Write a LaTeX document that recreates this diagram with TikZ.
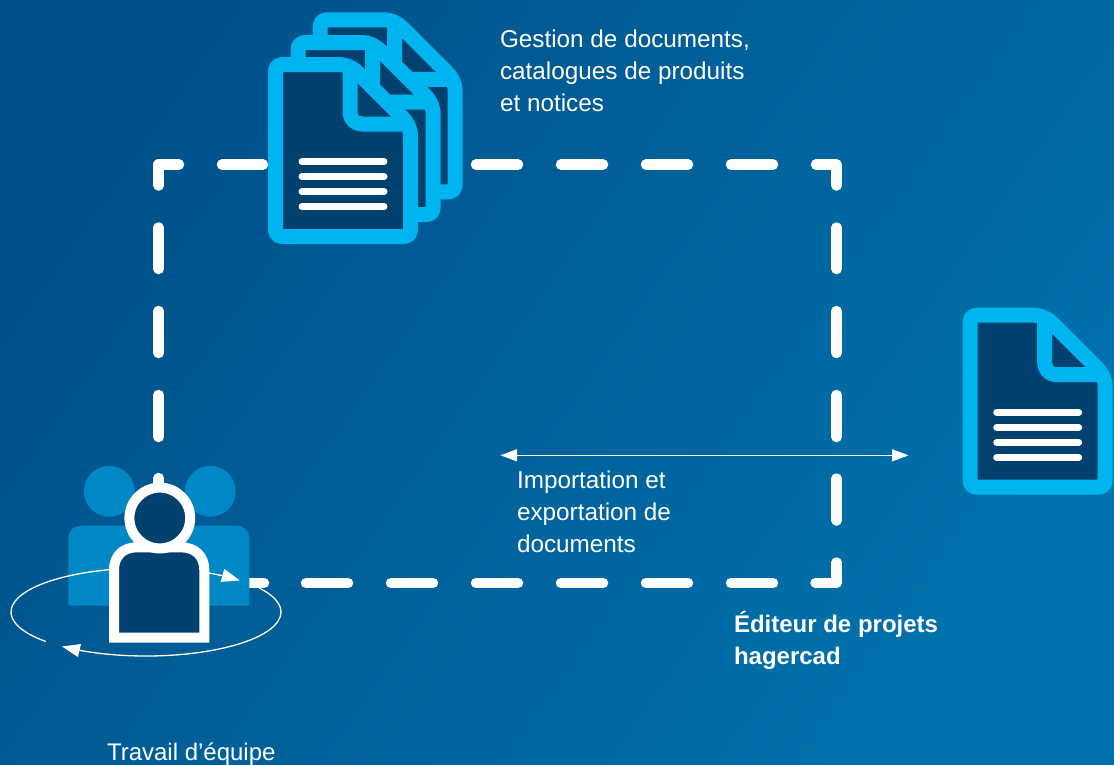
\documentclass[tikz,border=0pt]{standalone}
\usepackage{fontspec}
\setmainfont{Liberation Sans}
\usetikzlibrary{arrows.meta,bending}
\definecolor{bgA}{HTML}{00518A}
\definecolor{bgB}{HTML}{0072AC}
\definecolor{docDark}{HTML}{00416F}
\definecolor{docCyan}{HTML}{00B5EF}
\definecolor{teamBlue}{HTML}{0087C6}
\tikzset{
  x=1pt,y=1pt,
  dashline/.style={draw=white,line width=10.5pt,line cap=round,line join=round},
  thinarrow/.style={draw=white,line width=1.3pt,-{Triangle[length=18pt,width=13pt,fill=white,flex=0.6]}},
  txt/.style={text=white,inner sep=0pt,outer sep=0pt,align=left,anchor=north west,font=\fontsize{24.3}{32}\selectfont},
  txtb/.style={txt,font=\fontsize{24}{32}\selectfont\bfseries},
  docline/.style={draw=white,line width=7pt,line cap=round},
  pics/docicon/.style={code={
    \draw[draw=docCyan,fill=docDark,line width=15pt,line join=round]
      (15,-7.5) -- (70,-7.5) .. controls (78,-7.5) and (84,-10) .. (90,-16)
      -- (134,-60) .. controls (140,-66) and (142.5,-72) .. (142.5,-80)
      -- (142.5,-172) .. controls (142.5,-177) and (140,-179.5) .. (135,-179.5)
      -- (15,-179.5) .. controls (10,-179.5) and (7.5,-177) .. (7.5,-172)
      -- (7.5,-15) .. controls (7.5,-10) and (10,-7.5) .. (15,-7.5) -- cycle;
    \draw[draw=docCyan,line width=15pt,line join=round]
      (82,-10) -- (82,-55) .. controls (82,-62) and (87,-67) .. (94,-67) -- (142,-67);
  }},
  pics/doclines/.style={code={
    \foreach \yy in {104.7,119.7,134.7,149.7}
      \draw[docline] (34,-\yy) -- (116,-\yy);
  }}
}
\begin{document}
\begin{tikzpicture}
\useasboundingbox (0,0) rectangle (1114,-764);
\shade[shading=axis,bottom color=bgA,top color=bgB,shading angle=235] (0,0) rectangle (1114,-764);

% dashed frame
\coordinate (tl) at (158.7,-164.6);
\coordinate (tr) at (836.6,-164.6);
\coordinate (br) at (836.6,-583);
\draw[dashline] (158.7,-185.5) -- (tl) -- (179,-164.6);
\foreach \a/\b in {222/263,476/518,561/603,646/688,731/773}
  \draw[dashline] (\a,-164.6) -- (\b,-164.6);
\draw[dashline] (816,-164.6) -- (tr) -- (836.6,-185.5);
\foreach \a/\b in {227.5/269,311/353,395/437,478.5/520.5}
  \draw[dashline] (836.6,-\a) -- (836.6,-\b);
\draw[dashline] (836.6,-562.5) -- (br) -- (815.5,-583);
\foreach \a/\b in {731/773,646/688,561/603,476/518,391/433,306/348,240/264}
  \draw[dashline] (\a,-583) -- (\b,-583);
\foreach \a/\b in {227.5/269,311/353,395/437,478/500}
  \draw[dashline] (158.7,-\a) -- (158.7,-\b);

% documents
\pic at (312.7,-12.3) {docicon};
\pic at (290.7,-35) {docicon};
\pic (front) at (268,-57) {docicon};
\pic at (268,-57) {doclines};
\pic (single) at (962.7,-307.7) {docicon};
\pic at (962.7,-307.7) {doclines};

% team
\fill[teamBlue] (109.3,-491.3) circle[radius=25.4];
\fill[teamBlue] (210.3,-491.3) circle[radius=25.4];
\fill[teamBlue] (68.3,-605.7) -- (68.3,-540) .. controls (68.3,-531) and (73,-525.7) .. (82,-525.7)
  -- (236,-525.7) .. controls (245,-525.7) and (249.3,-531) .. (249.3,-540) -- (249.3,-605.7) -- cycle;
\draw[thinarrow] (146,-612) ++(222:135 and 44) arc[start angle=222,end angle=46,x radius=135,y radius=44];
\draw[thinarrow] (146,-612) ++(33:135 and 44) arc[start angle=33,end angle=-128.5,x radius=135,y radius=44];
\draw[draw=white,fill=docDark,line width=10pt,miter limit=10]
  (114,-637.7) -- (114,-570) .. controls (114,-556) and (123,-547.3) .. (137,-547.3)
  -- (181,-547.3) .. controls (195,-547.3) and (204.3,-556) .. (204.3,-570) -- (204.3,-637.7) -- cycle;
\draw[draw=white,fill=docDark,line width=10pt] (159.8,-518) circle[radius=30.4];

% import/export arrow
\coordinate (ieA) at (500.5,-455.3);
\coordinate (ieB) at (908.5,-455.3);
\draw[draw=white,line width=1.3pt,{Triangle[length=16.5pt,width=12pt,fill=white]}-{Triangle[length=16.5pt,width=12pt,fill=white]}] (ieA) -- (ieB);

% labels
\node[txt] (gestion) at (500,-30) {Gestion de documents,\\catalogues de produits\\et notices};
\node[txt] (import) at (517,-471) {Importation et\\exportation de\\documents};
\node[txtb] (editeur) at (734,-611) {Éditeur de projets\\hagercad};
\node[txt,font=\fontsize{24}{32}\selectfont] (travail) at (107,-743) {Travail d’équipe};
\end{tikzpicture}
\end{document}
